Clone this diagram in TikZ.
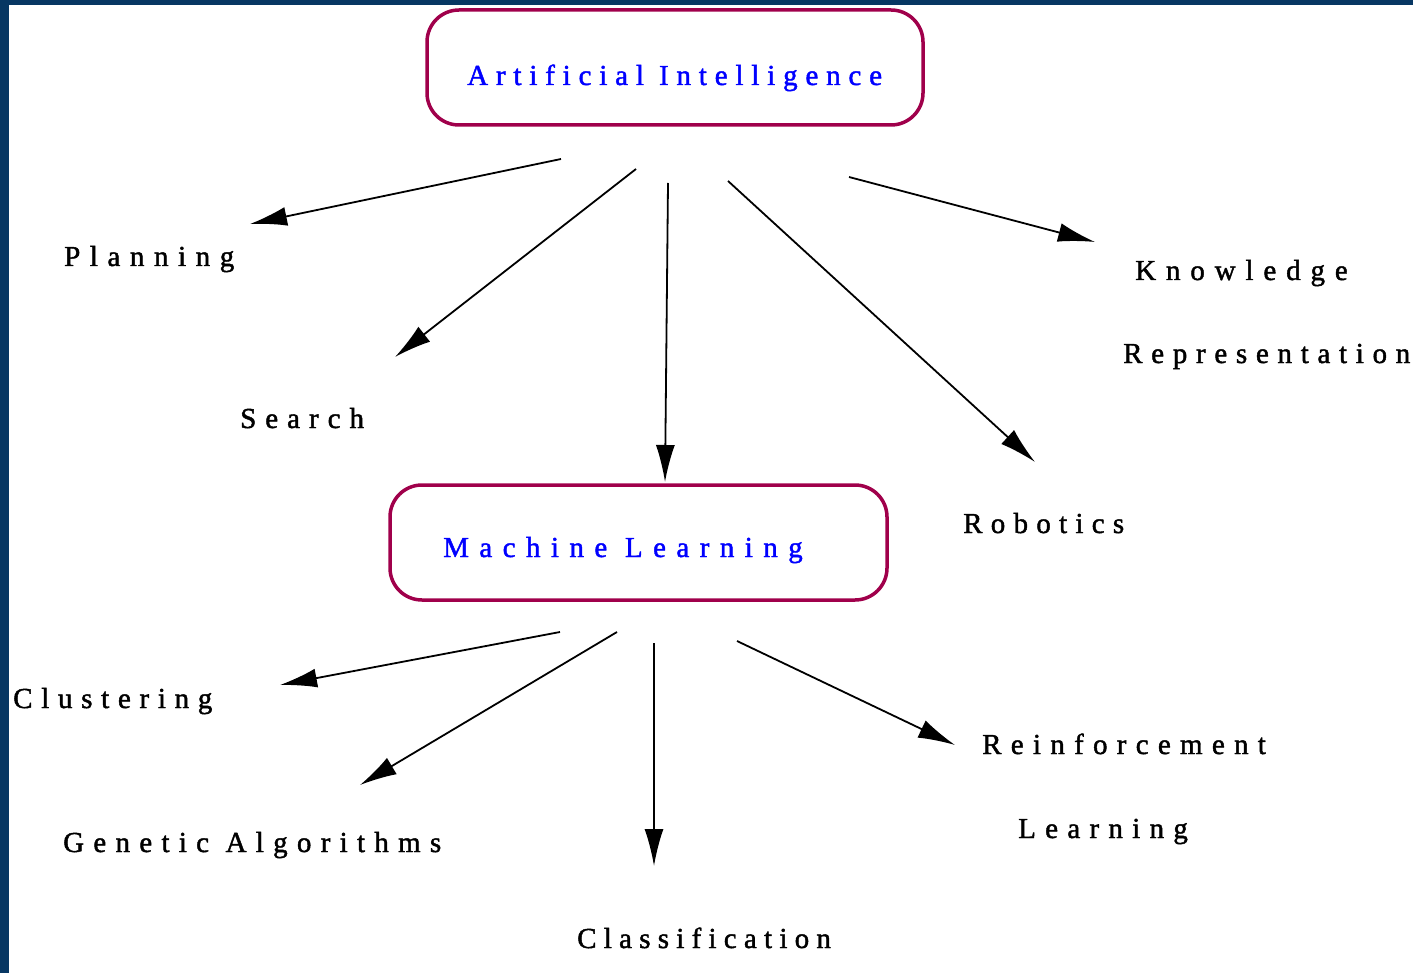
\documentclass[tikz,border=0pt]{standalone}
\usepackage{fontspec}
\setmainfont{Liberation Serif}[FakeBold=1.5]
\usetikzlibrary{arrows.meta}
\definecolor{frameblue}{RGB}{7,55,99}
\definecolor{boxred}{RGB}{160,0,75}
\definecolor{headblue}{RGB}{0,0,255}
% text set with a given letter spacing
\newcommand{\spaced}[2]{{\addfontfeatures{LetterSpace=#1}#2}}
\tikzset{
  topicbox/.style={draw=boxred, line width=3.5pt, rounded corners=32pt,
    minimum width=#1, minimum height=115pt, inner sep=0pt},
  headtext/.style={text=headblue, anchor=base west, inner sep=0pt,
    font=\fontsize{29}{34}\selectfont},
  leaftext/.style={text=black, anchor=base west, inner sep=0pt,
    font=\fontsize{29}{34}\selectfont},
  link/.style={draw=black, line width=1.8pt,
    -{Latex[length=37pt,width=19pt]}}
}
\begin{document}
\begin{tikzpicture}[x=1pt,y=-1pt]
\useasboundingbox (0,0) rectangle (1413,973);
% frame edges along the left and top
\fill[frameblue] (0,0) rectangle (9,973);
\fill[frameblue] (0,0) rectangle (1413,5);

% topic boxes
\node[topicbox=496pt] (ai) at (675,67.5) {};
\node[topicbox=497pt] (ml) at (638.5,542.5) {};
\node[headtext] (aitext) at (467,85) {\spaced{27}{Artificial Intelligence}};
\node[headtext] (mltext) at (443,557) {\spaced{36}{Machine Learning}};

% subfields of AI
\node[leaftext] (planning) at (64,266) {\spaced{33}{Planning}};
\node[leaftext] (search) at (240,428) {\spaced{31}{Search}};
\node[leaftext] (know1) at (1135,280) {\spaced{34}{Knowledge}};
\node[leaftext] (know2) at (1123,363) {\spaced{30}{Representation}};
\node[leaftext] (robotics) at (963,533) {\spaced{28.5}{Robotics}};

% subfields of ML
\node[leaftext] (clustering) at (13,708) {\spaced{30}{Clustering}};
\node[leaftext] (genetic) at (63,852) {\spaced{32}{Genetic Algorithms}};
\node[leaftext] (classif) at (577,948) {\spaced{25}{Classification}};
\node[leaftext] (reinf1) at (982,754) {\spaced{32}{Reinforcement}};
\node[leaftext] (reinf2) at (1018,838) {\spaced{32}{Learning}};

% connector end points
\coordinate (aiP) at (561,159);  \coordinate (tP) at (250,224);
\coordinate (aiS) at (636,169);  \coordinate (tS) at (395,357);
\coordinate (aiM) at (668,183);  \coordinate (tM) at (665,482);
\coordinate (aiR) at (728,181);  \coordinate (tR) at (1035,462);
\coordinate (aiK) at (849,177);  \coordinate (tK) at (1095,242);
\coordinate (mlC) at (560,632);  \coordinate (tC) at (280,685);
\coordinate (mlG) at (617,632);  \coordinate (tG) at (360,785);
\coordinate (mlF) at (654,643);  \coordinate (tF) at (654,866);
\coordinate (mlL) at (737,641);  \coordinate (tL) at (955,745);

\draw[link] (aiP) -- (tP);
\draw[link] (aiS) -- (tS);
\draw[link] (aiM) -- (tM);
\draw[link] (aiR) -- (tR);
\draw[link] (aiK) -- (tK);
\draw[link] (mlC) -- (tC);
\draw[link] (mlG) -- (tG);
\draw[link] (mlF) -- (tF);
\draw[link] (mlL) -- (tL);
\end{tikzpicture}
\end{document}
